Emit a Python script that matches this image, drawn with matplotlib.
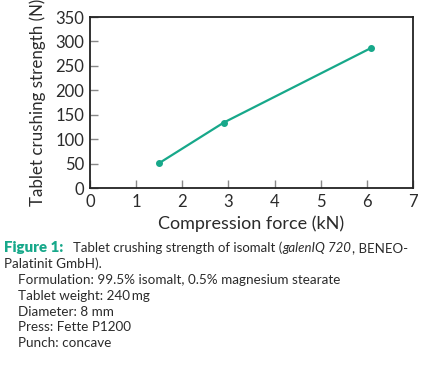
import matplotlib
matplotlib.use("Agg")
import matplotlib.pyplot as plt

force_kN = [1.5, 2.9, 6.1]
strength_N = [51, 134, 287]
xticks = [0, 1, 2, 3, 4, 5, 6, 7]
yticks = [0, 50, 100, 150, 200, 250, 300, 350]

teal = "#17a88a"
txt = "#2b2b2b"
plt.rcParams['font.family'] = ['Lato', 'DejaVu Sans']

fig = plt.figure(figsize=(4.21, 3.68), dpi=100)
W, H = 421, 368
ax = fig.add_axes([90 / W, 1 - 188 / H, (413 - 90) / W, (188 - 17) / H])
ax.plot(force_kN, strength_N, color=teal, lw=1.6, marker='o', ms=4)
ax.set_xlim(0, 7)
ax.set_ylim(0, 350)
ax.set_xticks(xticks)
ax.set_yticks(yticks)
ax.tick_params(direction='in', length=6, width=1, color='#888888', labelsize=12,
               labelcolor=txt, pad=4)
for s in ax.spines.values():
    s.set_linewidth(1.3)
    s.set_color('#222222')
ax.set_xlabel("Compression force (kN)", fontsize=13, color=txt, labelpad=4)
ax.set_ylabel("Tablet crushing strength (N)", fontsize=12.2, color=txt, labelpad=7)

fs = 9.7
cap_y = 1 - 252 / H
fig.text(4 / W, cap_y, "Figure 1:", fontsize=10.8, fontweight='heavy', color=teal, va='baseline')
pieces = [("Tablet crushing strength of isomalt (", 'normal'),
          ("galenIQ 720", 'italic'),
          (", BENEO-", 'normal')]
fig.canvas.draw()
r = fig.canvas.get_renderer()
x = 73
for s, st in pieces:
    t = fig.text(x / W, cap_y, s, fontsize=9.5, color=txt, va='baseline', style=st)
    x += t.get_window_extent(renderer=r).width + 0.5
lines = [
    (4, 268, "Palatinit GmbH)."),
    (18, 284, "Formulation: 99.5% isomalt, 0.5% magnesium stearate"),
    (18, 300, "Tablet weight: 240\u2009mg"),
    (18, 316, "Diameter: 8 mm"),
    (18, 331, "Press: Fette P1200"),
    (18, 347, "Punch: concave"),
]
for x, y, s in lines:
    fig.text(x / W, 1 - y / H, s, fontsize=fs, color=txt, va='baseline')

fig.savefig("out.png", dpi=100)
